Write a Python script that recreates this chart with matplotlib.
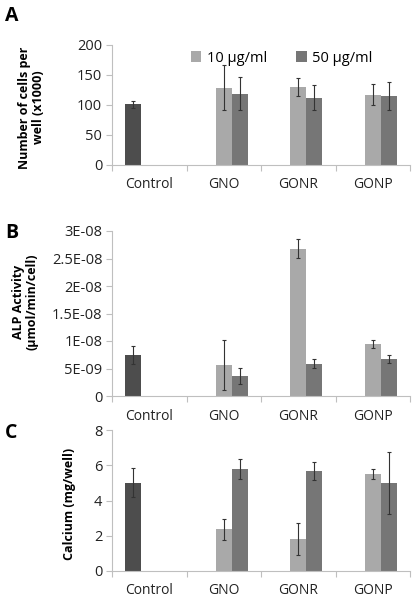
import matplotlib
matplotlib.use("Agg")
import matplotlib.pyplot as plt
import numpy as np
from matplotlib.ticker import FixedLocator, FuncFormatter

plt.rcParams['font.family'] = ['Open Sans', 'DejaVu Sans']

categories = ["Control", "GNO", "GONR", "GONP"]
series = ["Control", "10 µg/ml", "50 µg/ml"]

# panel A - cells per well (x1000)
cells_ctrl = [101, np.nan, np.nan, np.nan]
cells_ctrl_err = [6, 0, 0, 0]
cells_10 = [np.nan, 129, 130, 117]
cells_10_err = [0, 38, 14.5, 17.5]
cells_50 = [np.nan, 119, 112, 115]
cells_50_err = [0, 27.5, 21, 23]

# panel B - ALP activity
alp_ctrl = [7.5e-9, np.nan, np.nan, np.nan]
alp_ctrl_err = [1.6e-9, 0, 0, 0]
alp_10 = [np.nan, 5.6e-9, 2.68e-8, 9.5e-9]
alp_10_err = [0, 4.5e-9, 1.7e-9, 0.75e-9]
alp_50 = [np.nan, 3.6e-9, 5.9e-9, 6.7e-9]
alp_50_err = [0, 1.5e-9, 0.8e-9, 0.7e-9]

# panel C - calcium
ca_ctrl = [5.0, np.nan, np.nan, np.nan]
ca_ctrl_err = [0.82, 0, 0, 0]
ca_10 = [np.nan, 2.36, 1.83, 5.5]
ca_10_err = [0, 0.6, 0.92, 0.3]
ca_50 = [np.nan, 5.78, 5.67, 5.0]
ca_50_err = [0, 0.58, 0.53, 1.77]

couleurs = ["#4d4d4d", "#a9a9a9", "#767676"]
W, H = 416, 599

fig = plt.figure(figsize=(W / 100, H / 100), dpi=100)

def panneau(rect, valeurs, erreurs, ylim, yticks, fmt, ylabel, lab_xy, legende=False):
    ax = fig.add_axes(rect)
    x = np.arange(len(categories))
    w = 0.215
    offsets = [-w, 0, w]
    barres = []
    for v, e, c, off, nom in zip(valeurs, erreurs, couleurs, offsets, series):
        b = ax.bar(x + off, v, w, color=c, label=nom, zorder=2)
        barres.append(b)
        v = np.array(v, dtype=float)
        ok = ~np.isnan(v)
        ax.errorbar((x + off)[ok], v[ok], yerr=np.array(e)[ok], fmt="none",
                    ecolor="#333333", elinewidth=0.8, capsize=1.5, capthick=0.8, zorder=3)
    ax.set_xlim(-0.5, 3.5)
    ax.set_ylim(*ylim)
    ax.set_yticks(yticks)
    ax.yaxis.set_major_formatter(FuncFormatter(fmt))
    ax.set_xticks(x)
    ax.set_xticklabels(categories)
    ax.xaxis.set_minor_locator(FixedLocator([-0.5, 0.5, 1.5, 2.5, 3.5]))
    ax.tick_params(axis="x", which="major", length=0, pad=9, labelsize=10, colors="#222222")
    ax.tick_params(axis="x", which="minor", length=4, color="#bfbfbf", width=0.8)
    ax.tick_params(axis="y", length=4, color="#bfbfbf", width=0.8, labelsize=10.5,
                   colors="#222222", pad=3)
    for s in ["top", "right"]:
        ax.spines[s].set_visible(False)
    for s in ["left", "bottom"]:
        ax.spines[s].set_color("#bfbfbf")
        ax.spines[s].set_linewidth(0.8)
    ax.set_ylabel(ylabel, fontsize=9, fontweight="bold", linespacing=1.1)
    ax.yaxis.set_label_coords(*lab_xy)
    if legende:
        ax.legend(barres[1:], series[1:], loc="center", bbox_to_anchor=(0.57, 0.89),
                  ncol=2, frameon=False, fontsize=10.5, handlelength=0.7, handleheight=0.7,
                  columnspacing=2.0, handletextpad=0.4)
    return ax

def fy(top, bot):
    return [112 / W, 1 - bot / H, (410 - 112) / W, (bot - top) / H]

panneau(fy(45, 165), [cells_ctrl, cells_10, cells_50],
        [cells_ctrl_err, cells_10_err, cells_50_err],
        (0, 200), [0, 50, 100, 150, 200], lambda v, p: "%d" % v,
        "Number of cells per\nwell (x1000)", (-0.225, 0.48), legende=True)

def fmt_sci(v, p):
    if v == 0:
        return "0"
    m, e = ("%.1E" % v).split("E")
    m = m.rstrip("0").rstrip(".")
    return "%sE%s" % (m, e)

panneau(fy(231, 396), [alp_ctrl, alp_10, alp_50],
        [alp_ctrl_err, alp_10_err, alp_50_err],
        (0, 3e-8), [0, 5e-9, 1e-8, 1.5e-8, 2e-8, 2.5e-8, 3e-8], fmt_sci,
        "ALP Activity\n(µmol/min/cell)", (-0.245, 0.57))

panneau(fy(430, 571), [ca_ctrl, ca_10, ca_50],
        [ca_ctrl_err, ca_10_err, ca_50_err],
        (0, 8), [0, 2, 4, 6, 8], lambda v, p: "%d" % v,
        "Calcium (mg/well)", (-0.12, 0.475))

for lettre, y in [("A", 16), ("B", 233), ("C", 433)]:
    fig.text(5 / W, 1 - y / H, lettre, fontsize=14, fontweight="bold", va="center", ha="left")

fig.savefig("out.png", dpi=100, facecolor="white")
